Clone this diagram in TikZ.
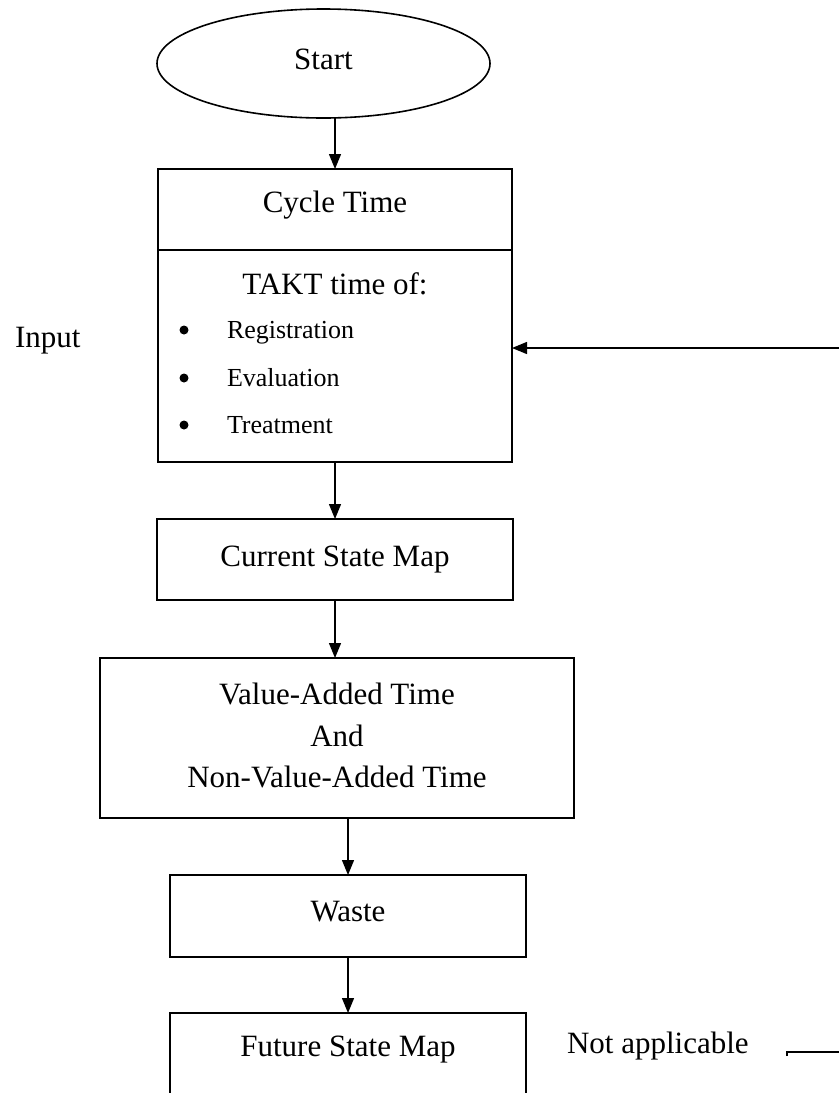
\documentclass[tikz,border=0pt]{standalone}
\usepackage{fontspec}
\setmainfont{Liberation Serif}
\usetikzlibrary{shapes.geometric,arrows.meta,calc}
\begin{document}
\begin{tikzpicture}[x=1bp,y=-1bp,
  every node/.style={inner sep=0pt,outer sep=0pt},
  mainfont/.style={font=\fontsize{31bp}{41.5bp}\selectfont},
  smallfont/.style={font=\fontsize{26bp}{31bp}\selectfont},
  procbox/.style={draw,line width=1.8bp,rectangle,mainfont,align=center},
  bulletdot/.style={circle,fill=black,minimum size=9bp},
  arr/.style={line width=1.3bp,-{Triangle[length=15bp,width=12bp]}}]
\clip (0,0) rectangle (839,1093);
\fill[white] (0,0) rectangle (839,1093);

% Start
\node[draw,ellipse,line width=1.6bp,minimum width=333bp,minimum height=109bp,mainfont]
  (start) at (323.5,63.5) {\raisebox{8bp}{Start}};

% Cycle time box
\node[procbox,minimum width=354bp,minimum height=293bp] (ct) at (335,315.5) {};
\draw[line width=1.8bp] ($(ct.north west)+(0,81)$) coordinate (dl) -- ($(ct.north east)+(0,81)$) coordinate (dr);
\node[mainfont,anchor=base] (cttitle) at (335,212) {Cycle Time};
\node[mainfont,anchor=base] (takt) at (335,294) {TAKT time of:};
\node[bulletdot] (b1) at (184,330) {};
\node[bulletdot] (b2) at (184,378) {};
\node[bulletdot] (b3) at (184,425) {};
\node[smallfont,anchor=base west] (reg) at (227,338) {Registration};
\node[smallfont,anchor=base west] (eva) at (227,386) {Evaluation};
\node[smallfont,anchor=base west] (tre) at (227,433) {Treatment};

% Input
\node[mainfont,anchor=base west] (input) at (15,347) {Input};
\coordinate (rin) at (840,348);

% Current state map
\node[procbox,minimum width=356bp,minimum height=81bp] (csm) at (335,559.5) {\raisebox{3.5bp}{Current State Map}};

% Value added
\node[procbox,minimum width=474bp,minimum height=160bp] (va) at (337,738)
  {\raisebox{7bp}{\begin{tabular}{@{}c@{}}Value-Added Time\\And\\Non-Value-Added Time\end{tabular}}};

% Waste
\node[procbox,minimum width=356bp,minimum height=82bp] (waste) at (348,916) {\raisebox{8.5bp}{Waste}};

% Future state map
\node[procbox,minimum width=356bp,minimum height=160bp,anchor=north] (future) at (348,1013) {};
\node[mainfont] (futuretext) at (348,1050) {Future State Map};

% Not applicable
\node[mainfont,anchor=base west] (na) at (567,1053) {Not applicable};
\coordinate (na1) at (787,1056);
\coordinate (na2) at (787,1052);
\coordinate (na3) at (840,1052);
\draw[line width=1.8bp] (na1) -- (na2) -- (na3);

% Connectors
\draw[arr] (start.south -| ct.north) -- (ct.north);
\draw[arr] (rin) -- (rin -| ct.east);
\draw[arr] (ct.south) -- (csm.north);
\draw[arr] (csm.south) -- (csm.south |- va.north);
\draw[arr] (waste.north |- va.south) -- (waste.north);
\draw[arr] (waste.south) -- (future.north);
\end{tikzpicture}
\end{document}
